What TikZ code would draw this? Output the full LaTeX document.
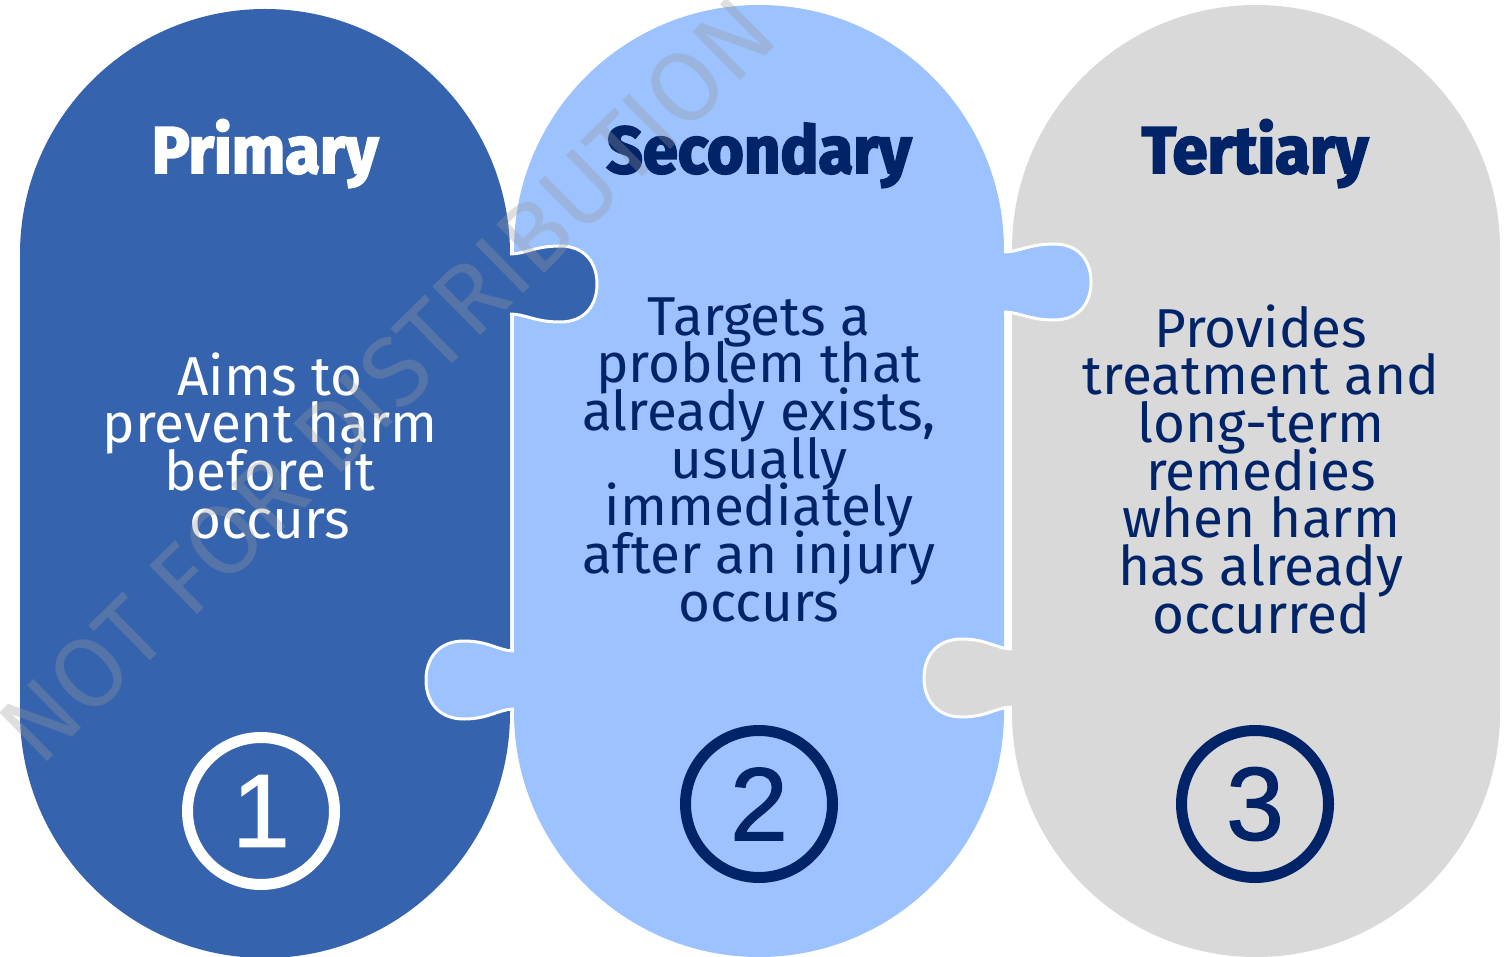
\documentclass[tikz,border=0pt]{standalone}
\usepackage{fontspec}
\setmainfont{Fira Sans}
\newfontfamily\headfont{Fira Sans}[FakeStretch=0.96,BoldFeatures={FakeBold=3}]
\newfontfamily\numfont{Liberation Sans}[FakeBold=1.2]
\newfontfamily\wmfont{Fira Sans}
\definecolor{pillA}{HTML}{3563AE}
\definecolor{pillB}{HTML}{9CC2FF}
\definecolor{pillC}{HTML}{D9D9D9}
\definecolor{navy}{HTML}{012469}
\newcommand\puzzletabR[3]{%
  \fill[#3] ({#1-6},{#2-30}) -- (#1,{#2-30}) .. controls ({#1+15},{#2-30}) and ({#1+25},{#2-38}) .. ({#1+50},{#2-38})
    .. controls ({#1+75},{#2-38}) and ({#1+87},{#2-21}) .. ({#1+87},#2)
    .. controls ({#1+87},{#2+21}) and ({#1+75},{#2+38}) .. ({#1+50},{#2+38})
    .. controls ({#1+25},{#2+38}) and ({#1+15},{#2+30}) .. (#1,{#2+30}) -- ({#1-6},{#2+30}) -- cycle;
  \draw[white,line width=3] (#1,{#2-30}) .. controls ({#1+15},{#2-30}) and ({#1+25},{#2-38}) .. ({#1+50},{#2-38})
    .. controls ({#1+75},{#2-38}) and ({#1+87},{#2-21}) .. ({#1+87},#2)
    .. controls ({#1+87},{#2+21}) and ({#1+75},{#2+38}) .. ({#1+50},{#2+38})
    .. controls ({#1+25},{#2+38}) and ({#1+15},{#2+30}) .. (#1,{#2+30});}
\newcommand\puzzletabL[3]{%
  \fill[#3] ({#1+6},{#2-29}) -- (#1,{#2-29}) .. controls ({#1-15},{#2-29}) and ({#1-25},{#2-39}) .. ({#1-50},{#2-39})
    .. controls ({#1-76},{#2-39}) and ({#1-88},{#2-21}) .. ({#1-88},#2)
    .. controls ({#1-88},{#2+21}) and ({#1-76},{#2+39}) .. ({#1-50},{#2+39})
    .. controls ({#1-25},{#2+39}) and ({#1-15},{#2+29}) .. (#1,{#2+29}) -- ({#1+6},{#2+29}) -- cycle;
  \draw[white,line width=3] (#1,{#2-29}) .. controls ({#1-15},{#2-29}) and ({#1-25},{#2-39}) .. ({#1-50},{#2-39})
    .. controls ({#1-76},{#2-39}) and ({#1-88},{#2-21}) .. ({#1-88},#2)
    .. controls ({#1-88},{#2+21}) and ({#1-76},{#2+39}) .. ({#1-50},{#2+39})
    .. controls ({#1-25},{#2+39}) and ({#1-15},{#2+29}) .. (#1,{#2+29});}
\begin{document}
\begin{tikzpicture}[x=1pt,y=-1pt,
  head/.style={anchor=base,inner sep=0pt,font=\headfont\bfseries\fontsize{66}{66}\selectfont},
  body/.style={anchor=base,inner sep=0pt,font=\fontsize{54.8}{54.8}\selectfont},
  ring/.style={circle,draw,line width=11,minimum size=147,inner sep=0pt,
    font=\numfont\fontsize{104}{104}\selectfont}]
\useasboundingbox (0,0) rectangle (1506,957);
\fill[white] (0,0) rectangle (1506,957);
% pill bodies
\fill[pillA] (20,254) arc[start angle=180,end angle=360,radius=245] -- (510,713)
  arc[start angle=0,end angle=180,radius=245] -- cycle;
\fill[pillB] (514,250) arc[start angle=180,end angle=360,radius=245] -- (1004,712)
  arc[start angle=0,end angle=180,radius=245] -- cycle;
\fill[pillC] (1012,249) arc[start angle=180,end angle=360,radius=244] -- (1500,713)
  arc[start angle=0,end angle=180,radius=244] -- cycle;
% puzzle tabs
\puzzletabR{510}{284}{pillA}
\puzzletabL{514}{680}{pillB}
\puzzletabR{1004}{282}{pillB}
\puzzletabL{1012}{678}{pillC}
% headings
\node[head,text=white] (h1) at (265,173) {Primary};
\node[head,text=navy] (h2) at (759,173) {Secondary};
\node[head,text=navy] (h3) at (1255,173) {Tertiary};
% body text
\foreach \t [count=\k] in {Aims to,prevent harm,before it,occurs}
  \node[body,text=white] (a\k) at (270,{395+47.7*(\k-1)}) {\t};
\foreach \t [count=\k] in {Targets a,problem that,{already exists,},usually,immediately,after an injury,occurs}
  \node[body,text=navy] (b\k) at (759,{335+47.7*(\k-1)}) {\t};
\foreach \t [count=\k] in {Provides,treatment and,long-term,remedies,when harm,has already,occurred}
  \node[body,text=navy] (c\k) at (1261,{347+47.7*(\k-1)}) {\t};
% numbered rings
\node[ring,draw=white,text=white] (n1) at (261,811) {1};
\node[ring,draw=navy,text=navy] (n2) at (759,804) {2};
\node[ring,draw=navy,text=navy] (n3) at (1255,804) {3};
% watermark
\node[rotate=44.5,text=black!40,opacity=0.32,inner sep=0pt,
  font=\wmfont\fontsize{99}{99}\selectfont] (wm) at (387,380) {NOT FOR DISTRIBUTION};
\end{tikzpicture}
\end{document}
